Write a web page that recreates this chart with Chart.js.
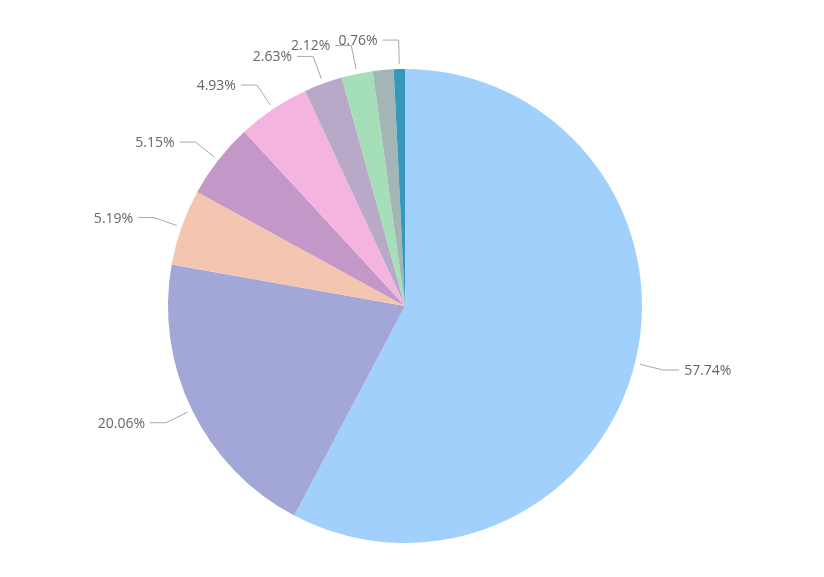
<!DOCTYPE html>
<html>
<head>
<meta charset="utf-8">
<script src="https://cdn.jsdelivr.net/npm/chart.js@4.4.0/dist/chart.umd.min.js"></script>
<style>
  html, body { margin: 0; padding: 0; background: #fff; }
  canvas { display: block; }
</style>
</head>
<body>
<canvas id="pieChart" width="824" height="577"></canvas>
<script>
const categories = ["A", "B", "C", "D", "E", "F", "G", "H", "I"];
const shares = [57.74, 20.06, 5.19, 5.15, 4.93, 2.63, 2.12, 1.42, 0.76];
const sliceColors = [
  "#a2d0fd", "#a2a7d8", "#f4c5b0", "#c497c9", "#f5b4df",
  "#b9a9c9", "#a5dfb7", "#a3b6b5", "#3699bc"
];
// the small grey slice has no label in the original (hidden by overlap)
const showLabel = [true, true, true, true, true, true, true, false, true];

// draws outside labels with a leader line, like the original
const pieLabels = {
  id: 'pieLabels',
  afterDatasetsDraw(chart) {
    const ctx = chart.ctx;
    const meta = chart.getDatasetMeta(0);
    ctx.save();
    ctx.font = '14px "Open Sans", "Noto Sans", sans-serif';
    ctx.textBaseline = 'middle';
    meta.data.forEach((arc, i) => {
      if (!showLabel[i]) return;
      const p = arc.getProps(['x', 'y', 'startAngle', 'endAngle', 'outerRadius'], true);
      const mid = (p.startAngle + p.endAngle) / 2;
      const cos = Math.cos(mid), sin = Math.sin(mid);
      const right = cos >= 0;
      const x0 = p.x + (p.outerRadius + 5) * cos;
      const y0 = p.y + (p.outerRadius + 5) * sin;
      const x1 = p.x + (p.outerRadius + 29) * cos;
      const y1 = p.y + (p.outerRadius + 29) * sin;
      const x2 = x1 + (right ? 16 : -16);
      ctx.strokeStyle = '#a8a8a8';
      ctx.lineWidth = 1;
      ctx.beginPath();
      ctx.moveTo(x0, y0);
      ctx.lineTo(x1, y1);
      ctx.lineTo(x2, y1);
      ctx.stroke();
      ctx.fillStyle = '#666';
      ctx.textAlign = right ? 'left' : 'right';
      ctx.fillText(shares[i].toFixed(2) + '%', x2 + (right ? 5 : -5), y1 + 1);
    });
    ctx.restore();
  }
};

new Chart(document.getElementById('pieChart').getContext('2d'), {
  type: 'pie',
  data: {
    labels: categories,
    datasets: [{
      data: shares,
      backgroundColor: sliceColors,
      borderWidth: 0
    }]
  },
  options: {
    responsive: false,
    animation: false,
    layout: { padding: { top: 69, bottom: 34, left: 168, right: 182 } },
    plugins: {
      legend: { display: false },
      tooltip: { enabled: false }
    }
  },
  plugins: [pieLabels]
});
</script>
</body>
</html>
